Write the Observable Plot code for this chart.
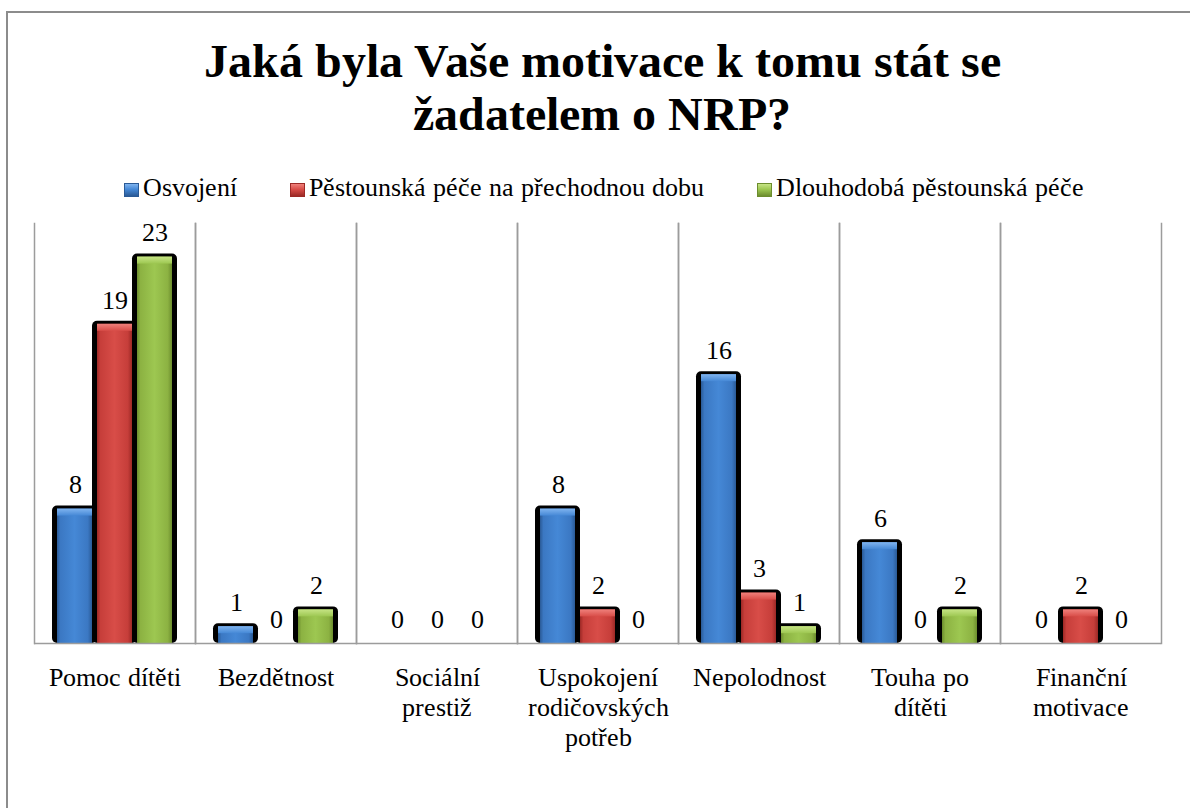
<!DOCTYPE html>
<html>
<head>
<meta charset="utf-8">
<script src="https://cdn.jsdelivr.net/npm/d3@7"></script>
<script src="https://cdn.jsdelivr.net/npm/@observablehq/plot@0.6"></script>
<style>
  @font-face { font-family: "RefSerif"; src: local("Liberation Serif"), local("LiberationSerif"), local("Times New Roman"); font-weight: 400; }
  @font-face { font-family: "RefSerif"; src: local("Liberation Serif Bold"), local("LiberationSerif-Bold"), local("Times New Roman Bold"); font-weight: 700; }
  html, body { margin: 0; padding: 0; background: #fff; overflow: hidden; }
  body { width: 1190px; height: 808px; position: relative; color: #000; font-family: "RefSerif", "Liberation Serif", "Times New Roman", serif; }
  #border { position: absolute; left: 6px; top: 11px; width: 1220px; height: 840px; border: 2px solid #8c8c8c; box-sizing: border-box; }
  #title { position: absolute; left: 0; top: 34px; width: 1204px; text-align: center; font-weight: bold; font-size: 48px; line-height: 53px; }
  #legend { position: absolute; left: 0; top: 173px; width: 1208px; display: flex; justify-content: center; gap: 53px; font-size: 26px; line-height: 30px; }
  .item { display: flex; align-items: center; }
  .sw { width: 15px; height: 14px; margin-right: 4px; margin-top: 3px; box-sizing: border-box; }
  #chart { position: absolute; left: 0; top: 200px; }
</style>
</head>
<body>
<div id="border"></div>
<div id="title">Jaká byla Vaše motivace k tomu stát se<br>žadatelem o NRP?</div>
<div id="legend"></div>
<div id="chart"></div>
<script>
// ---- data ----
const categories = ["Pomoc dítěti", "Bezdětnost", "Sociální prestiž", "Uspokojení rodičovských potřeb", "Nepolodnost", "Touha po dítěti", "Finanční motivace"];
const categoryLabels = ["Pomoc dítěti", "Bezdětnost", "Sociální\nprestiž", "Uspokojení\nrodičovských\npotřeb", "Nepolodnost", "Touha po\ndítěti", "Finanční\nmotivace"];
const series = ["Osvojení", "Pěstounská péče na přechodnou dobu", "Dlouhodobá pěstounská péče"];
const osvojeni = [8, 1, 0, 8, 16, 6, 0];
const prechodna = [19, 0, 0, 2, 3, 0, 2];
const dlouhodoba = [23, 2, 0, 0, 1, 2, 0];
const yDomain = [0, 25];

// ---- styles ----
const fontStack = "RefSerif, 'Liberation Serif', 'Times New Roman', serif";
const palette = [
  {edge: "#2a5a96", mid: "#3b78c3", center: "#4588d6", cap: "#80b4ef"},
  {edge: "#9c2926", mid: "#c63e3a", center: "#d84d48", cap: "#ef807b"},
  {edge: "#6c8d2e", mid: "#8cb242", center: "#9dc751", cap: "#c6e485"}
];

const valuesBySeries = [osvojeni, prechodna, dlouhodoba];
const rows = [];
series.forEach((s, si) => categories.forEach((c, ci) => rows.push({category: c, series: s, value: valuesBySeries[si][ci], si})));
const labelOf = Object.fromEntries(categories.map((c, i) => [c, categoryLabels[i]]));

// legend
const legend = document.getElementById("legend");
series.forEach((s, i) => {
  const p = palette[i];
  const item = document.createElement("div");
  item.className = "item";
  const sw = document.createElement("span");
  sw.className = "sw";
  sw.style.background = `linear-gradient(to bottom, ${p.cap} 0%, ${p.center} 45%, ${p.edge} 100%)`;
  sw.style.border = `1px solid ${p.edge}`;
  const t = document.createElement("span");
  t.textContent = s;
  item.appendChild(sw); item.appendChild(t);
  legend.appendChild(item);
});

const positive = rows.filter(d => d.value > 0);
const gridStroke = "#9c9c9c";

const marks = [
  Plot.frame({anchor: "left", stroke: gridStroke, strokeWidth: 1.5}),
  Plot.frame({anchor: "right", stroke: gridStroke, strokeWidth: 1.5}),
  Plot.barY(positive, {fx: "category", x: "series", y: "value", fill: "#000", insetLeft: -5, insetRight: -5, insetTop: -3, rx: 5})
];
series.forEach((s, i) => {
  const data = positive.filter(d => d.series === s);
  marks.push(Plot.barY(data, {fx: "category", x: "series", y: "value", fill: `url(#barGrad${i})`}));
  marks.push(Plot.barY(data, {fx: "category", x: "series", y1: "value", y2: "value", insetBottom: -7, fill: `url(#capGrad${i})`}));
});
marks.push(
  Plot.ruleY([0], {stroke: gridStroke, strokeWidth: 1.5}),
  Plot.text(rows, {fx: "category", x: "series", y: "value", text: d => String(d.value), dy: -24, fontSize: 26, fill: "#000"}),
  Plot.axisFx({anchor: "bottom", tickSize: 0, tickPadding: 21, fontSize: 26, lineHeight: 1.15, tickFormat: d => labelOf[d], label: null, fill: "#000"})
);

const svg = Plot.plot({
  width: 1190,
  height: 608,
  marginTop: 23,
  marginLeft: 33,
  marginRight: 28,
  marginBottom: 165,
  style: {fontFamily: fontStack, fontSize: "26px", color: "#000", background: "transparent"},
  fx: {domain: categories, padding: 0, label: null},
  x: {domain: series, paddingInner: 0.136, paddingOuter: 0.558, axis: null},
  y: {domain: yDomain, axis: null},
  marks
});

const defs = d3.select(svg).insert("defs", ":first-child");
palette.forEach((p, i) => {
  const g = defs.append("linearGradient").attr("id", `barGrad${i}`).attr("x1", 0).attr("x2", 1).attr("y1", 0).attr("y2", 0);
  [[0, p.edge], [0.1, p.mid], [0.5, p.center], [0.88, p.mid], [1, p.edge]].forEach(([o, c]) => g.append("stop").attr("offset", o).attr("stop-color", c));
  const c = defs.append("linearGradient").attr("id", `capGrad${i}`).attr("x1", 0).attr("x2", 0).attr("y1", 0).attr("y2", 1);
  [[0, p.cap], [1, p.center]].forEach(([o, col]) => c.append("stop").attr("offset", o).attr("stop-color", col));
});

document.getElementById("chart").appendChild(svg);
</script>
</body>
</html>
